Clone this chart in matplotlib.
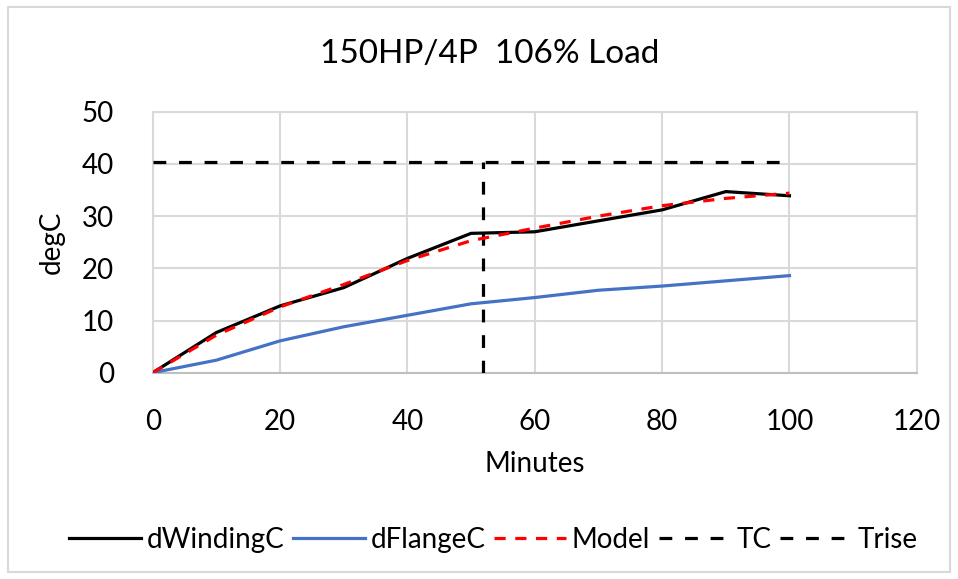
import matplotlib.pyplot as plt
from matplotlib.patches import Rectangle

# data
minutes = [0, 10, 20, 30, 40, 50, 60, 70, 80, 90, 100]
d_winding = [0, 7.7, 12.8, 16.3, 21.9, 26.7, 27.0, 29.1, 31.2, 34.7, 33.9]
d_flange = [0, 2.4, 6.1, 8.8, 11.0, 13.2, 14.4, 15.8, 16.6, 17.6, 18.6]
model = [0, 7.2, 12.6, 16.9, 21.5, 25.3, 27.7, 30.0, 32.0, 33.4, 34.4]
tc_x = [0, 100]
tc_y = [40.4, 40.4]
trise_x = [51.9, 51.9]
trise_y = [0, 40.4]

plt.rcParams['font.family'] = ['Lato', 'DejaVu Sans']
grid_col = '#d9d9d9'

fig = plt.figure(figsize=(9.58, 5.79), dpi=100)
ax = fig.add_axes([0.1594, 0.3563, 0.7976, 0.4507])

lw = 2.3
ax.plot(minutes, d_winding, color='black', lw=lw, label='dWindingC', zorder=4)
ax.plot(minutes, d_flange, color='#4472c4', lw=lw, label='dFlangeC', zorder=4)
ax.plot(minutes, model, color='#ff0000', lw=lw, ls=(0, (3.5, 3)), label='Model', zorder=5)
ax.plot(tc_x, tc_y, color='black', lw=lw, ls=(0, (4, 4)), label='TC', zorder=3)
ax.plot(trise_x, trise_y, color='black', lw=lw, ls=(0, (4, 4)), label='Trise', zorder=3)

ax.set_xlim(0, 120)
ax.set_ylim(0, 50)
ax.set_xticks(range(0, 121, 20))
ax.set_yticks(range(0, 51, 10))
ax.grid(True, color=grid_col, lw=1.5, zorder=0)
ax.set_axisbelow(True)
for s in ax.spines.values():
    s.set_color(grid_col)
    s.set_linewidth(1.5)
ax.spines['bottom'].set_color('#bfbfbf')
ax.tick_params(length=0, labelsize=20, colors='#000000')
ax.tick_params(axis='y', pad=28)
ax.tick_params(axis='x', pad=26)

ax.set_xlabel('Minutes', fontsize=20, labelpad=12)
ax.set_ylabel('degC', fontsize=20, labelpad=12)
fig.text(0.511, 0.907, '150HP/4P  106% Load', fontsize=24, ha='center', va='center')

fig.legend(loc='center', bbox_to_anchor=(0.515, 0.067), ncol=5, frameon=False,
           fontsize=20, handlelength=2.6, handletextpad=0.2, columnspacing=0.3)

fig.patches.append(Rectangle((8 / 958, 7 / 579), 942 / 958, 565 / 579,
                             transform=fig.transFigure, fill=False,
                             edgecolor=grid_col, lw=1.5))

fig.savefig('out.png', dpi=100)
